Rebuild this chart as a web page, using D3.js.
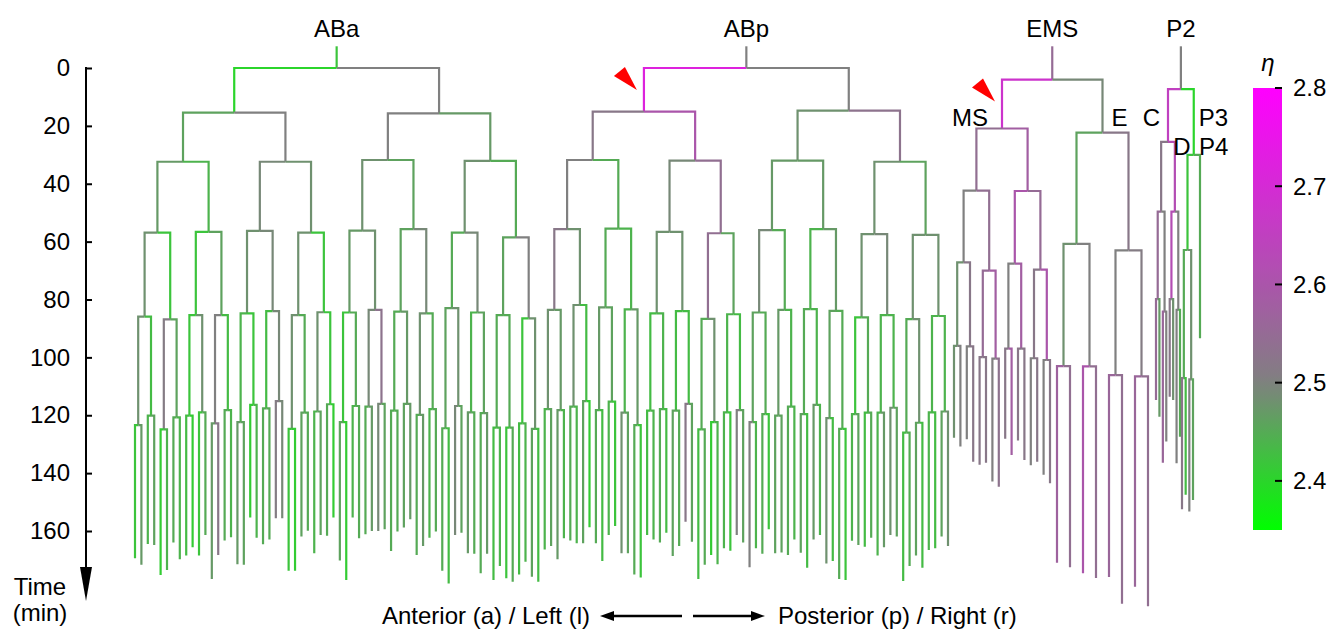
<!DOCTYPE html>
<html>
<head>
<meta charset="utf-8">
<script src="https://cdn.jsdelivr.net/npm/d3@7"></script>
<style>
  body { margin: 0; background: #fff; }
  text { font-family: "Liberation Sans", Arial, sans-serif; }
</style>
</head>
<body>
<div id="chart"></div>
<script>
// division times (min) per generation, leaf end times, and eta per generation (last row = leaves)
const abaDiv = [
  [0],
  [15.4, 15.7],
  [32.4, 32.4, 31.8, 32.1],
  [56.9, 56.6, 56.3, 56.9, 56.2, 55.7, 56.9, 58.5],
  [85.9, 86.9, 85.4, 85.4, 84.8, 84.0, 85.4, 84.4, 84.5, 83.6, 84.2, 84.8, 83.0, 84.5, 85.4, 86.5],
  [123.4, 120.1, 124.9, 120.7, 120.1, 119.0, 122.8, 118.2, 122.4, 116.4, 117.6, 115.1, 124.7, 119.1, 118.7, 116.2,
   122.4, 116.8, 117.0, 116.1, 118.4, 116.1, 119.9, 117.9, 124.5, 116.8, 119.0, 119.3, 124.3, 124.3, 122.8, 124.7]
];
const abaEnd = [
  169.4, 171.7, 164.5, 164.8, 175.2, 173.5, 164.0, 169.8, 168.5, 165.6, 168.5, 161.4, 176.6, 168.3, 163.3, 162.2,
  171.5, 171.7, 155.3, 162.3, 164.6, 162.9, 155.6, 155.6, 173.7, 173.7, 161.9, 159.9, 167.7, 161.4, 161.6, 155.3,
  170.2, 176.9, 155.3, 162.5, 161.1, 160.0, 160.0, 159.4, 166.9, 160.2, 158.8, 155.9, 168.3, 165.2, 162.3, 160.2,
  173.7, 178.1, 161.4, 160.6, 167.7, 167.9, 174.6, 167.9, 176.9, 172.1, 176.3, 177.5, 175.0, 170.6, 175.8, 177.5
];
const abaEta = [
  [2.42],
  [2.40, 2.50],
  [2.46, 2.50, 2.50, 2.47],
  [2.47, 2.44, 2.49, 2.48, 2.48, 2.46, 2.48, 2.45],
  [2.48, 2.42, 2.42, 2.46, 2.48, 2.49, 2.48, 2.42, 2.47, 2.48, 2.46, 2.49, 2.45, 2.49, 2.46, 2.50],
  [2.48, 2.43, 2.51, 2.46, 2.42, 2.48, 2.50, 2.43, 2.44, 2.42, 2.43, 2.49, 2.48, 2.45, 2.48, 2.42,
   2.42, 2.45, 2.49, 2.53, 2.45, 2.47, 2.48, 2.45, 2.46, 2.48, 2.44, 2.46, 2.45, 2.45, 2.42, 2.48],
  [2.42, 2.47, 2.44, 2.46, 2.41, 2.44, 2.45, 2.44, 2.43, 2.41, 2.42, 2.45, 2.47, 2.52, 2.45, 2.44,
   2.47, 2.46, 2.41, 2.44, 2.45, 2.45, 2.51, 2.49, 2.42, 2.41, 2.46, 2.45, 2.44, 2.46, 2.45, 2.41,
   2.46, 2.41, 2.44, 2.45, 2.45, 2.47, 2.49, 2.46, 2.45, 2.45, 2.46, 2.47, 2.45, 2.47, 2.44, 2.45,
   2.45, 2.43, 2.49, 2.46, 2.47, 2.45, 2.45, 2.47, 2.43, 2.44, 2.42, 2.45, 2.43, 2.44, 2.46, 2.43]
];

const abpDiv = [
  [0],
  [15.1, 14.7],
  [31.8, 32.0, 32.0, 32.4],
  [55.7, 55.5, 56.6, 57.1, 56.0, 55.7, 57.4, 57.7],
  [83.6, 81.9, 82.7, 83.4, 84.8, 84.0, 86.7, 85.1, 84.5, 83.6, 83.3, 83.9, 86.2, 85.4, 86.8, 85.7],
  [117.9, 118.2, 117.0, 115.1, 118.2, 115.3, 119.1, 123.4, 118.4, 117.9, 118.4, 116.1, 124.9, 122.4, 119.0, 118.2,
   122.4, 119.6, 120.1, 117.0, 119.6, 116.4, 121.0, 124.7, 119.6, 119.1, 119.1, 117.4, 126.0, 122.6, 119.0, 118.7]
];
const abpEnd = [
  166.4, 165.2, 169.8, 162.5, 163.3, 164.2, 164.2, 158.7, 164.2, 170.4, 161.4, 158.3, 167.7, 167.7, 175.0, 176.1,
  161.4, 162.9, 164.0, 160.6, 168.6, 165.2, 156.8, 163.7, 176.6, 171.7, 168.3, 171.5, 166.0, 166.8, 161.4, 164.0,
  172.5, 166.0, 167.9, 159.4, 167.7, 167.4, 168.3, 162.9, 167.5, 172.7, 162.9, 161.4, 171.2, 170.4, 176.6, 176.9,
  163.4, 164.8, 165.4, 162.3, 168.5, 165.6, 161.4, 161.9, 177.3, 172.1, 168.5, 172.7, 166.6, 166.0, 161.9, 165.2
];
const abpEta = [
  [2.50],
  [2.72, 2.50],
  [2.52, 2.60, 2.48, 2.53],
  [2.50, 2.45, 2.49, 2.54, 2.47, 2.47, 2.48, 2.46],
  [2.52, 2.48, 2.45, 2.44, 2.48, 2.48, 2.54, 2.46, 2.49, 2.45, 2.44, 2.47, 2.48, 2.49, 2.48, 2.48],
  [2.48, 2.47, 2.48, 2.43, 2.47, 2.46, 2.44, 2.47, 2.43, 2.44, 2.43, 2.43, 2.45, 2.48, 2.44, 2.43,
   2.46, 2.45, 2.47, 2.44, 2.45, 2.44, 2.46, 2.45, 2.42, 2.45, 2.44, 2.44, 2.45, 2.48, 2.44, 2.44],
  [2.44, 2.46, 2.47, 2.44, 2.45, 2.44, 2.46, 2.41, 2.45, 2.43, 2.44, 2.42, 2.48, 2.46, 2.45, 2.42,
   2.43, 2.44, 2.45, 2.43, 2.46, 2.45, 2.52, 2.46, 2.43, 2.45, 2.41, 2.44, 2.44, 2.42, 2.50, 2.46,
   2.50, 2.44, 2.45, 2.42, 2.46, 2.46, 2.45, 2.44, 2.46, 2.43, 2.47, 2.44, 2.48, 2.43, 2.45, 2.42,
   2.44, 2.46, 2.43, 2.45, 2.44, 2.47, 2.48, 2.46, 2.43, 2.45, 2.46, 2.43, 2.44, 2.43, 2.46, 2.48]
];

const msDiv = [[20.9], [42.4, 42.5], [67.2, 70.0, 67.6, 69.7], [96.0, 96.2, 99.9, 100.4, 97.0, 97.0, 100.3, 100.9]];
const msEnd = [127.8, 130.8, 128.3, 136.1, 137.1, 136.4, 142.9, 144.7, 128.1, 133.7, 128.7, 135.5, 137.3, 136.1, 140.6, 143.5];
const msEta = [
  [2.68], [2.54, 2.58], [2.50, 2.54, 2.60, 2.55],
  [2.48, 2.52, 2.55, 2.58, 2.50, 2.58, 2.52, 2.60],
  [2.48, 2.50, 2.50, 2.52, 2.52, 2.52, 2.50, 2.53, 2.52, 2.58, 2.52, 2.52, 2.50, 2.52, 2.50, 2.52]
];

const eDiv = [[22.3], [60.8, 63.0], [103.0, 103.1, 106.1, 106.6]];
const eEnd = [171.0, 172.5, 174.6, 176.2, 175.9, 185.1, 179.3, 186.0];
const eEta = [[2.49], [2.46, 2.52], [2.48, 2.50, 2.50, 2.51], [2.57, 2.54, 2.60, 2.54, 2.56, 2.54, 2.56, 2.54]];

const cDiv = [[25.5], [49.6, 49.6], [79.9, 84.2, 79.9, 83.6]];
const cEnd = [114.7, 120.5, 136.4, 129.1, 113.6, 114.7, 136.6, 127.4];
const cEta = [[2.65], [2.52, 2.62], [2.55, 2.50, 2.62, 2.50], [2.55, 2.47, 2.56, 2.50, 2.52, 2.48, 2.50, 2.45]];

const dDiv = [[62.9], [107.2, 107.6]];
const dEnd = [152.5, 147.5, 153.3, 149.3];
const dEta = [[2.42], [2.45, 2.48], [2.52, 2.43, 2.50, 2.46]];

// single cells joining the sub-lineages: [division or end time, eta]
const emsCell = [4.0, 2.55];
const p2Cell = [7.3, 2.50];
const p3Cell = [30.0, 2.40];
const p4Cell = [93.4, 2.45];
const rootStart = -7.5;

const timeTicks = [0, 20, 40, 60, 80, 100, 120, 140, 160];
const etaTicks = [2.4, 2.5, 2.6, 2.7, 2.8];
const etaRange = [2.35, 2.80];

// ---------------------------------------------------------------
const W = 1330, H = 633;
const svg = d3.select("#chart").append("svg").attr("width", W).attr("height", H);

const y = d3.scaleLinear().domain([0, 160]).range([68, 531]);
const color = d3.scaleLinear().domain([2.35, 2.5, 2.8])
  .range(["#00ff00", "#808080", "#ff00ff"]).clamp(true);

function perfectTree(name, split, divs, ends, etas) {
  const make = (gen, i, label) => {
    const node = { name: label, eta: etas[gen][i] };
    if (gen < divs.length) {
      node.t1 = divs[gen][i];
      const s = gen === 0 ? split : ["a", "p"];
      node.children = [make(gen + 1, 2 * i, label + s[0]), make(gen + 1, 2 * i + 1, label + s[1])];
    } else {
      node.t1 = ends[i];
    }
    return node;
  };
  return make(0, 0, name);
}

const aba = perfectTree("ABa", ["l", "r"], abaDiv, abaEnd, abaEta);
const abp = perfectTree("ABp", ["l", "r"], abpDiv, abpEnd, abpEta);
const ms = perfectTree("MS", ["a", "p"], msDiv, msEnd, msEta);
const e = perfectTree("E", ["a", "p"], eDiv, eEnd, eEta);
const c = perfectTree("C", ["a", "p"], cDiv, cEnd, cEta);
const dd = perfectTree("D", ["a", "p"], dDiv, dEnd, dEta);
const p4 = { name: "P4", t1: p4Cell[0], eta: p4Cell[1] };
const p3 = { name: "P3", t1: p3Cell[0], eta: p3Cell[1], children: [dd, p4] };
const p2 = { name: "P2", t1: p2Cell[0], eta: p2Cell[1], children: [c, p3] };
const ems = { name: "EMS", t1: emsCell[0], eta: emsCell[1], children: [ms, e] };

// leaf x positions: evenly spaced within each lineage block
const leafBlocks = [
  { trees: [aba, abp], range: [135, 948] },
  { trees: [ms], range: [954, 1050] },
  { trees: [e], range: [1057, 1148] },
  { trees: [c], range: [1156, 1180] },
  { trees: [dd], range: [1182, 1193] },
  { trees: [p4], range: [1200, 1200] }
];
const leafX = new Map();
leafBlocks.forEach(b => {
  const names = b.trees.flatMap(t => d3.hierarchy(t).leaves().map(l => l.data.name));
  const sx = d3.scalePoint().domain(names).range(b.range);
  names.forEach(n => leafX.set(n, sx(n)));
});

const root = d3.hierarchy({ name: "zygote", children: [aba, abp, ems, p2] });
root.leaves().forEach(l => { l.x = leafX.get(l.data.name); });
root.eachAfter(n => { if (n.children) n.x = d3.mean(n.children, ch => ch.x); });
root.each(n => {
  if (n.depth === 1) n.t0 = rootStart;
  else if (n.depth > 1) n.t0 = n.parent.data.t1;
});

const cells = root.descendants().filter(n => n.depth > 0);

svg.append("g")
  .attr("fill", "none")
  .attr("stroke-width", 2.2)
  .selectAll("path")
  .data(cells)
  .join("path")
  .attr("stroke", d => color(d.data.eta))
  .attr("d", d => d.depth === 1
    ? `M${d.x},${y(d.t0)}V${y(d.data.t1)}`
    : `M${d.parent.x},${y(d.t0)}H${d.x}V${y(d.data.t1)}`);

const byName = new Map(cells.map(n => [n.data.name, n]));

// founder labels
svg.append("g").selectAll("text")
  .data(["ABa", "ABp", "EMS", "P2"])
  .join("text")
  .attr("x", nm => byName.get(nm).x)
  .attr("y", 37)
  .attr("text-anchor", "middle")
  .style("font-size", "24px")
  .text(nm => nm);

// sub-lineage labels
const subLabels = [
  { name: "MS", dx: -14, y: 126, anchor: "end" },
  { name: "E", dx: 9, y: 126, anchor: "start" },
  { name: "C", dx: -8, y: 126, anchor: "end" },
  { name: "P3", dx: 5, y: 126, anchor: "start" },
  { name: "D", dx: 3, y: 155, anchor: "end" },
  { name: "P4", dx: -1, y: 155, anchor: "start" }
];
svg.append("g").selectAll("text")
  .data(subLabels)
  .join("text")
  .attr("x", d => byName.get(d.name).x + d.dx)
  .attr("y", d => d.y)
  .attr("text-anchor", d => d.anchor)
  .style("font-size", "24px")
  .text(d => d.name);

// red arrowheads pointing at ABpl and MS
const marked = ["ABpl", "MS"];
svg.append("g").selectAll("path")
  .data(marked)
  .join("path")
  .attr("fill", "#ff0000")
  .attr("d", nm => {
    const n = byName.get(nm);
    const tx = n.x - 7, ty = y(n.t0) + 22;
    return `M${tx},${ty}L${tx - 23},${ty - 14}L${tx - 12},${ty - 23}Z`;
  });

// time axis
const axisX = 86;
const axisG = svg.append("g").attr("transform", `translate(${axisX},0)`);
axisG.call(d3.axisLeft(y).tickValues(timeTicks).tickSizeInner(-6).tickSizeOuter(0).tickPadding(16))
  .call(g => g.select(".domain").remove())
  .call(g => g.selectAll(".tick line").attr("stroke", "#000").attr("stroke-width", 2))
  .call(g => g.selectAll(".tick text").style("font-size", "24px")
    .style("font-family", "'Liberation Sans', Arial, sans-serif").attr("fill", "#000"));
axisG.append("line")
  .attr("x1", 0).attr("x2", 0).attr("y1", y(0) - 1).attr("y2", 570)
  .attr("stroke", "#000").attr("stroke-width", 2);
axisG.append("path").attr("d", "M-6,567L6,567L0,601Z").attr("fill", "#000");
svg.append("text").attr("x", 40).attr("y", 595).attr("text-anchor", "middle")
  .style("font-size", "24px").text("Time");
svg.append("text").attr("x", 40).attr("y", 621).attr("text-anchor", "middle")
  .style("font-size", "24px").text("(min)");

// bottom direction labels
const by = 616;
svg.append("text").attr("x", 590).attr("y", by + 8).attr("text-anchor", "end")
  .style("font-size", "24px").text("Anterior (a) / Left (l)");
svg.append("text").attr("x", 778).attr("y", by + 8).attr("text-anchor", "start")
  .style("font-size", "24px").text("Posterior (p) / Right (r)");
svg.append("line").attr("x1", 612).attr("x2", 682).attr("y1", by).attr("y2", by)
  .attr("stroke", "#000").attr("stroke-width", 2.5);
svg.append("path").attr("d", `M600,${by}L614,${by - 5}L614,${by + 5}Z`).attr("fill", "#000");
svg.append("line").attr("x1", 693).attr("x2", 753).attr("y1", by).attr("y2", by)
  .attr("stroke", "#000").attr("stroke-width", 2.5);
svg.append("path").attr("d", `M765,${by}L751,${by - 5}L751,${by + 5}Z`).attr("fill", "#000");

// colour bar
const cbX = 1253, cbW = 29;
const cy = d3.scaleLinear().domain(etaRange).range([530, 88]);
const grad = svg.append("defs").append("linearGradient")
  .attr("id", "etaGrad").attr("x1", 0).attr("x2", 0).attr("y1", 1).attr("y2", 0);
d3.range(0, 1.0001, 0.05).forEach(f => {
  const v = etaRange[0] + f * (etaRange[1] - etaRange[0]);
  grad.append("stop").attr("offset", f).attr("stop-color", color(v));
});
svg.append("rect").attr("x", cbX).attr("y", cy(etaRange[1])).attr("width", cbW)
  .attr("height", cy(etaRange[0]) - cy(etaRange[1])).attr("fill", "url(#etaGrad)");
const cbTicks = svg.append("g").selectAll("g").data(etaTicks).join("g")
  .attr("transform", d => `translate(0,${cy(d)})`);
cbTicks.append("line").attr("x1", cbX + cbW - 7).attr("x2", cbX + cbW).attr("stroke", "#000").attr("stroke-width", 2);
cbTicks.append("text").attr("x", cbX + cbW + 11).attr("dy", "0.35em")
  .style("font-size", "24px").text(d => d.toFixed(1));
svg.append("text").attr("x", 1268).attr("y", 71).attr("text-anchor", "middle")
  .style("font-size", "24px").style("font-style", "italic").text("η");
</script>
</body>
</html>
